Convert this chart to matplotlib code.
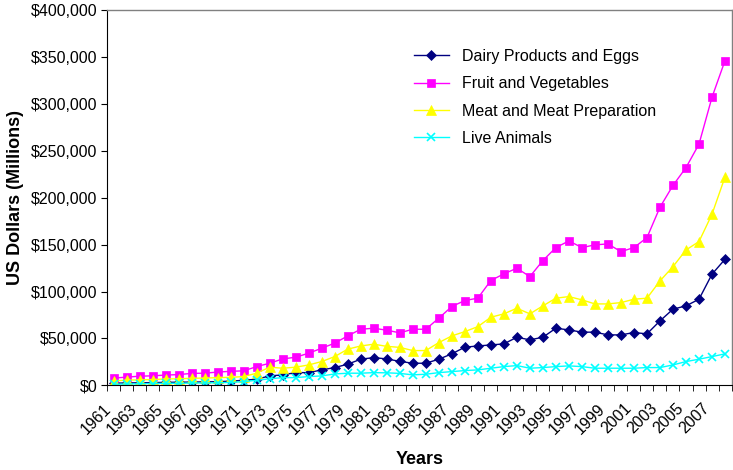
import numpy as np
import matplotlib
matplotlib.use("Agg")
import matplotlib.pyplot as plt
import matplotlib.transforms as mtrans
from matplotlib.ticker import FuncFormatter, FixedLocator

plt.rcParams['font.family'] = ['Liberation Sans', 'DejaVu Sans']

years = list(range(1961, 2009))

# values in thousands of US$ millions
dairy = [2.3, 2.6, 2.8, 3.0, 3.2, 3.4, 3.5, 3.7, 4.0, 4.5, 5.5, 6.6,
         10.1, 11.2, 13.6, 13.6, 16.5, 19.0, 22.6, 27.9, 29.6, 28.2,
         25.6, 23.6, 23.6, 27.9, 33.6, 40.7, 42.0, 43.1, 44.2, 51.3,
         48.5, 51.3, 60.9, 59.1, 56.7, 56.7, 53.8, 53.8, 56.3, 54.9,
         68.7, 81.2, 84.7, 91.8, 118.5, 134.4]
fruit = [7.8, 8.8, 9.8, 10.2, 11.0, 11.5, 12.8, 13.0, 14.2, 15.0, 15.5, 20.0,
         23.6, 28.2, 30.0, 34.3, 39.6, 45.0, 52.7, 59.8, 60.9, 58.8,
         56.0, 59.8, 59.8, 71.6, 84.0, 90.4, 92.9, 111.7, 118.8, 124.8,
         115.9, 133.0, 146.8, 153.9, 146.8, 149.7, 150.7, 142.5, 146.8, 157.4,
         189.8, 213.0, 232.0, 257.0, 307.0, 346.0]
meat = [4.8, 5.6, 5.9, 6.2, 6.9, 7.0, 7.6, 7.8, 8.3, 8.6, 9.4, 13.0,
        19.4, 18.3, 19.4, 21.8, 25.4, 30.7, 38.6, 42.0, 43.9, 41.6,
        40.5, 37.1, 37.1, 45.6, 52.7, 57.3, 62.6, 72.6, 76.2, 82.2,
        76.2, 84.7, 92.9, 94.6, 91.1, 86.8, 86.8, 88.2, 91.8, 92.9,
        111.3, 126.5, 144.3, 153.2, 182.4, 222.0]
live = [1.3, 1.5, 1.8, 2.0, 2.2, 2.3, 2.5, 2.6, 2.8, 3.2, 4.0, 5.5,
        7.0, 8.3, 8.3, 9.4, 10.1, 12.2, 13.0, 13.0, 13.6, 13.4,
        12.8, 11.2, 11.9, 13.6, 14.7, 15.8, 16.5, 18.3, 20.0, 21.1,
        18.3, 19.0, 20.0, 20.8, 20.0, 18.3, 18.3, 18.3, 18.3, 19.0,
        19.0, 21.8, 25.4, 27.9, 30.7, 33.6]

series = [
    ("Dairy Products and Eggs", dairy, "#000080", "D", 5.5),
    ("Fruit and Vegetables", fruit, "#FF00FF", "s", 6),
    ("Meat and Meat Preparation", meat, "#FFFF00", "^", 7),
    ("Live Animals", live, "#00FFFF", "x", 6),
]

fig = plt.figure(figsize=(7.33, 4.70), dpi=100)
ax = fig.add_axes([0.146, 0.18, 0.852, 0.799])

x = np.arange(len(years))
for name, vals, col, mk, ms in series:
    ax.plot(x, np.array(vals) * 1000, color=col, marker=mk, markersize=ms,
            linewidth=1, label=name, markeredgewidth=1.2 if mk == "x" else 0.5,
            markeredgecolor=col)

ax.set_xlim(-0.5, len(years) - 0.5)
ax.set_ylim(0, 400000)
ax.set_yticks(np.arange(0, 400001, 50000))
ax.yaxis.set_major_formatter(FuncFormatter(lambda v, p: f"${v:,.0f}"))
ax.tick_params(axis='y', direction='out', length=4, labelsize=11.5, pad=3)

ax.set_xticks(x[::2])
ax.set_xticklabels([str(y) for y in years[::2]], rotation=45, ha='right',
                   va='center', rotation_mode='anchor', fontsize=11.5)
ax.tick_params(axis='x', which='major', length=0, pad=15)
ax.xaxis.set_minor_locator(FixedLocator(np.arange(-0.5, len(years), 1)))
ax.tick_params(axis='x', which='minor', direction='out', length=4)
# nudge the rotated year labels a little to the left
shift = mtrans.ScaledTranslation(-5 / 100, 0, fig.dpi_scale_trans)
for lbl in ax.get_xticklabels():
    lbl.set_transform(lbl.get_transform() + shift)

for side in ['top', 'right']:
    ax.spines[side].set_color('#808080')
    ax.spines[side].set_linewidth(1)
for side in ['left', 'bottom']:
    ax.spines[side].set_color('black')

ax.set_xlabel("Years", fontsize=13, fontweight='bold', labelpad=10)
ax.set_ylabel("US Dollars (Millions)", fontsize=13, fontweight='bold', labelpad=5)

ax.legend(loc='upper left', bbox_to_anchor=(0.468, 0.935), frameon=False,
          fontsize=11.5, labelspacing=0.78, handlelength=2.2, handletextpad=0.8)

fig.savefig("out.png", dpi=100)
